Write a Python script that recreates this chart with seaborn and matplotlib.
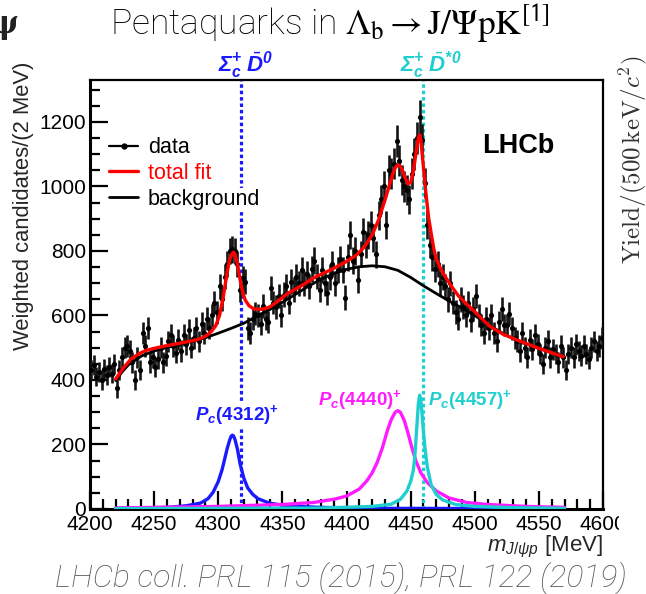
import numpy as np
import pandas as pd
import matplotlib
matplotlib.use("Agg")
import matplotlib.pyplot as plt
import seaborn as sns
from matplotlib.lines import Line2D
from matplotlib.ticker import MultipleLocator
from matplotlib.patches import Rectangle
import matplotlib.transforms as mtrans

# ---------------- data ----------------
bin_start = 4200          # MeV
bin_width = 2             # MeV per bin

counts = [
    430, 445, 410, 425, 400, 435, 415, 440, 420, 450,
    375, 430, 470, 500, 505, 490, 455, 400, 470, 430,
    545, 505, 560, 455, 470, 440, 465, 500, 455, 475,
    520, 540, 505, 485, 525, 490, 540, 510, 555, 500,
    530, 560, 520, 575, 545, 590, 560, 600, 640, 610,
    690, 650, 720, 760, 800, 805, 800, 760, 680, 715,
    705, 560, 545, 590, 605, 600, 575, 630, 590, 580,
    685, 640, 625, 660, 600, 665, 690, 640, 705, 680,
    720, 700, 740, 700, 730, 690, 745, 770, 720, 680,
    740, 700, 670, 720, 760, 700, 740, 775, 740, 655,
    780, 850, 770, 800, 710, 790, 860, 820, 850, 880,
    840, 790, 910, 960, 1000, 880, 1050, 1040, 1070, 1140,
    1080, 1020, 1000, 990, 960, 1040, 1100, 1150, 1215, 1145,
    1010, 880, 820, 780, 745, 760, 700, 720, 690, 650,
    700, 640, 610, 590, 650, 625, 600, 640, 585, 620,
    660, 600, 570, 545, 590, 560, 600, 545, 520, 580,
    620, 570, 570, 605, 560, 530, 520, 490, 545, 500,
    470, 525, 495, 540, 510, 480, 450, 500, 520, 470,
    495, 480, 455, 505, 470, 430, 480, 500, 470, 510,
    490, 475, 505, 480, 465, 500, 520, 490, 505, 530,
]
errors = [
    31, 31, 30, 30, 30, 31, 30, 31, 30, 31,
    30, 31, 32, 33, 33, 33, 32, 30, 32, 31,
    34, 33, 34, 32, 32, 31, 32, 33, 32, 32,
    33, 34, 33, 32, 33, 33, 34, 33, 34, 33,
    34, 34, 33, 35, 34, 35, 34, 35, 36, 35,
    38, 37, 39, 40, 41, 41, 41, 40, 38, 39,
    39, 35, 35, 36, 36, 36, 35, 37, 36, 35,
    38, 37, 37, 38, 36, 38, 38, 37, 39, 38,
    39, 39, 40, 39, 40, 39, 40, 41, 39, 38,
    40, 39, 38, 40, 41, 39, 40, 41, 40, 38,
    41, 43, 41, 42, 40, 41, 43, 42, 43, 44,
    43, 42, 45, 46, 47, 44, 48, 48, 48, 50,
    49, 47, 47, 47, 46, 48, 49, 50, 52, 50,
    47, 44, 42, 41, 40, 41, 39, 40, 39, 38,
    39, 37, 37, 36, 38, 37, 36, 37, 36, 37,
    38, 36, 35, 35, 36, 35, 36, 35, 34, 35,
    37, 35, 35, 36, 35, 34, 34, 33, 35, 33,
    32, 34, 33, 34, 33, 32, 32, 33, 34, 32,
    33, 32, 32, 33, 32, 31, 32, 33, 32, 33,
    32, 32, 33, 32, 32, 33, 33, 32, 33, 33,
]

fit_m = [4220, 4226, 4232, 4238, 4244, 4250, 4258, 4266, 4274, 4280, 4286, 4291,
         4295, 4298, 4301, 4304, 4307, 4309, 4311, 4312, 4313, 4315, 4317, 4319,
         4321, 4324, 4328, 4334, 4340, 4347, 4354, 4364, 4375, 4388, 4399, 4408,
         4414, 4420, 4425, 4430, 4433, 4436, 4438, 4440, 4442, 4444, 4446, 4448,
         4450, 4452, 4454, 4456, 4457, 4458, 4459, 4460, 4461, 4462.5, 4464, 4466,
         4468, 4470, 4474, 4477, 4482, 4487, 4493, 4500, 4506, 4512, 4522, 4533,
         4548, 4569]
fit_v = [403, 437, 465, 481, 492, 498, 505, 511, 517, 522, 528, 538,
         552, 568, 600, 660, 735, 775, 793, 796, 790, 760, 712, 672,
         648, 630, 620, 619, 626, 646, 668, 690, 718, 742, 765, 788,
         813, 850, 896, 958, 998, 1038, 1058, 1067, 1063, 1046, 1024, 1008,
         1012, 1045, 1098, 1150, 1160, 1145, 1100, 1060, 1015, 958, 905, 855,
         808, 775, 740, 720, 690, 662, 638, 612, 588, 566, 542, 524,
         501, 472]

bkg_m = [4220, 4225, 4230, 4240, 4250, 4260, 4270, 4280, 4290, 4300, 4310, 4320,
         4330, 4340, 4350, 4360, 4370, 4380, 4390, 4400, 4410, 4420, 4430, 4440,
         4450, 4460, 4470, 4480, 4490, 4500, 4510, 4520, 4530, 4540, 4550, 4560,
         4570]
bkg_v = [398, 425, 447, 474, 490, 501, 510, 520, 531, 545, 560, 576,
         597, 618, 641, 665, 690, 712, 730, 743, 751, 754, 751, 740,
         718, 692, 668, 645, 623, 600, 573, 549, 528, 512, 498, 484,
         470]

pc4312_m = [4220, 4260, 4275, 4286, 4292, 4296, 4300, 4303, 4305, 4307, 4309, 4310,
            4311, 4312, 4313, 4315, 4317, 4320, 4323, 4327, 4331, 4340, 4355, 4380,
            4430, 4570]
pc4312_v = [2, 5, 10, 18, 32, 52, 85, 122, 155, 188, 215, 225,
            229, 226, 216, 185, 140, 95, 65, 45, 32, 18, 9, 5,
            2, 1]

pc4440_m = [4220, 4300, 4350, 4374, 4390, 4400, 4410, 4416, 4420, 4424, 4428, 4432,
            4435, 4438, 4440, 4442, 4445, 4448, 4451, 4454, 4458, 4463, 4470, 4480,
            4494, 4510, 4540, 4570]
pc4440_v = [3, 8, 14, 20, 30, 40, 62, 88, 112, 145, 190, 245,
            278, 300, 305, 300, 275, 235, 190, 150, 112, 82, 56, 34,
            20, 14, 8, 5]

pc4457_m = [4220, 4380, 4420, 4435, 4442, 4447, 4450, 4452, 4453, 4454, 4455, 4456,
            4457, 4458, 4459, 4460, 4461, 4463, 4466, 4470, 4475, 4485, 4500, 4530,
            4570]
pc4457_v = [1, 3, 8, 15, 30, 55, 85, 118, 150, 205, 265, 325,
            353, 335, 290, 240, 195, 130, 75, 45, 28, 14, 8, 4,
            2]

thresholds = [4318, 4460]   # Sigma_c+ Dbar0, Sigma_c+ Dbar*0
threshold_labels = [r'$\mathbfit{\Sigma}_{\mathbfit{c}}^{\mathbfit{+}}\;\bar{\mathbfit{D}}^{\mathbfit{0}}$',
                    r'$\mathbfit{\Sigma}_{\mathbfit{c}}^{\mathbfit{+}}\;\bar{\mathbfit{D}}^{\mathbfit{*0}}$']
pc_names = ['4312', '4440', '4457']

# ---------------- style ----------------
sns.set_theme(style="white")
plt.rcParams['font.family'] = ['Liberation Sans', 'DejaVu Sans']
plt.rcParams['mathtext.fontset'] = 'custom'
plt.rcParams['mathtext.rm'] = 'Liberation Sans'
plt.rcParams['mathtext.it'] = 'Liberation Sans:italic'
plt.rcParams['mathtext.bf'] = 'Liberation Sans:bold'
plt.rcParams['mathtext.bfit'] = 'Liberation Sans:italic:bold'
plt.rcParams['mathtext.sf'] = 'Liberation Sans'

BLUE = '#1a1aff'
MAGENTA = '#ff1aff'
CYAN = '#1fcfcf'
RED = '#ff0000'

W, H = 646, 594
fig = plt.figure(figsize=(W / 100, H / 100), dpi=100)
ax = fig.add_axes([90 / W, 1 - 509 / H, (603 - 90) / W, (509 - 80) / H])

mass = [bin_start + bin_width * (i + 0.5) for i in range(len(counts))]
df = pd.DataFrame({'mass': mass, 'counts': counts, 'err': errors})

# threshold dotted lines (behind everything)
for thr, col in zip(thresholds, [BLUE, CYAN]):
    ax.axvline(thr, color=col, ls=(0, (1.1, 0.9)), lw=2.3, zorder=1)

# data
ax.errorbar(df['mass'], df['counts'], yerr=df['err'], fmt='none',
            ecolor='#151515', elinewidth=1.9, capsize=0, zorder=3)
sns.scatterplot(data=df, x='mass', y='counts', color='black', s=14,
                linewidth=0, zorder=4, ax=ax, legend=False)

# signal components
for m, v, col in [(pc4312_m, pc4312_v, BLUE), (pc4440_m, pc4440_v, MAGENTA),
                  (pc4457_m, pc4457_v, CYAN)]:
    sns.lineplot(x=m, y=v, color=col, lw=2.4, ax=ax, estimator=None, sort=False, zorder=5)

# background and total fit
sns.lineplot(x=bkg_m, y=bkg_v, color='black', lw=2.0, ax=ax, estimator=None, sort=False, zorder=5)
sns.lineplot(x=fit_m, y=fit_v, color=RED, lw=2.4, ax=ax, estimator=None, sort=False, zorder=6)

ax.set_xlim(4200, 4600)
ax.set_ylim(0, 1330)
ax.xaxis.set_major_locator(MultipleLocator(50))
ax.xaxis.set_minor_locator(MultipleLocator(10))
ax.yaxis.set_major_locator(MultipleLocator(200))
ax.yaxis.set_minor_locator(MultipleLocator(50))
ax.tick_params(which='both', direction='in', left=True, bottom=True, top=False, right=False,
               colors='black', width=1.6)
ax.tick_params(which='major', length=13, labelsize=15)
ax.tick_params(which='minor', length=7)
ax.tick_params(axis='x', pad=4)
ax.tick_params(axis='y', pad=3)
for s in ['left', 'bottom']:
    ax.spines[s].set_linewidth(2.2)
for s in ['top', 'right']:
    ax.spines[s].set_linewidth(1.6)
for s in ax.spines.values():
    s.set_color('black')

ax.set_xlabel(r'$m_{J/\psi p}$ [MeV]', fontsize=16, loc='right', labelpad=0)
ax.set_ylabel('Weighted candidates/(2 MeV)', fontsize=15.8, loc='top')
ax.yaxis.set_label_coords(-0.11, 1.042)

# legend
handles = [Line2D([], [], color='black', lw=1.6, marker='o', ms=3.5),
           Line2D([], [], color=RED, lw=2.4),
           Line2D([], [], color='black', lw=2.0)]
leg = ax.legend(handles, ['data', 'total fit', 'background'], loc='upper left',
                bbox_to_anchor=(0.016, 0.892), frameon=False, fontsize=15.5,
                handlelength=1.35, handletextpad=0.45, labelspacing=0.22,
                borderpad=0, labelcolor=['black', RED, 'black'])
leg.set_zorder(10)
leg.get_texts()[2].set_bbox(dict(facecolor='white', edgecolor='none', pad=0.5))

ax.text(0.765, 0.845, 'LHCb', transform=ax.transAxes, fontsize=19.5, fontweight='bold',
        ha='left', va='center', color='black')

# threshold labels above the frame
blend = mtrans.blended_transform_factory(ax.transData, ax.transAxes)
for thr, lab, col in zip(thresholds, threshold_labels, [BLUE, CYAN]):
    ax.text(thr - 18, 1.035, lab, transform=blend, color=col, fontsize=16,
            ha='left', va='center', clip_on=False)

# component labels
pc_label_pos = [(4314.5, 290), (4410.5, 338), (4496, 338)]
for name, (lx, ly), col in zip(pc_names, pc_label_pos, [BLUE, MAGENTA, CYAN]):
    t = ax.text(lx, ly, r'$\mathbfit{P}_{\mathbfit{c}}\mathbf{(' + name + r')}^{\mathbf{+}}$',
                color=col, fontsize=13.5, ha='center', va='center', zorder=8)
    if name == '4312':
        t.set_bbox(dict(facecolor='white', edgecolor='none', pad=0.5))

# title
fig.text(330 / W, 1 - 24 / H,
         r'Pentaquarks in $\mathrm{\Lambda_b \rightarrow J/\Psi pK}^{\mathsf{[1]}}$',
         fontsize=25.5, ha='center', va='center', family=['Roboto', 'DejaVu Sans'],
         fontweight='light', math_fontfamily='stix', color='#000000')

# citation
fig.text(341 / W, 1 - 578 / H, 'LHCb coll. PRL 115 (2015), PRL 122 (2019)',
         fontsize=23, ha='center', va='center', style='italic', fontweight='light',
         family=['Roboto', 'DejaVu Sans'], color='#555555')

# neighbouring-slide remnants at the right / left edges
fig.add_artist(Rectangle((619 / W, 1 - 536 / H), 27 / W, 26 / H, transform=fig.transFigure,
                         facecolor='white', edgecolor='none', zorder=20))
fig.text(633 / W, 1 - 160 / H, r'$\mathrm{Yield}/(500\,\mathrm{keV}/c^2)$', rotation=90,
         fontsize=18, ha='center', va='center', math_fontfamily='cm', color='#333333',
         zorder=21)
fig.text(-10 / W, 1 - 24 / H, 'ψ', fontsize=22, ha='left', va='center',
         family=['DejaVu Serif'], fontweight='bold', color='#222222')

fig.savefig('out.png', dpi=100)
